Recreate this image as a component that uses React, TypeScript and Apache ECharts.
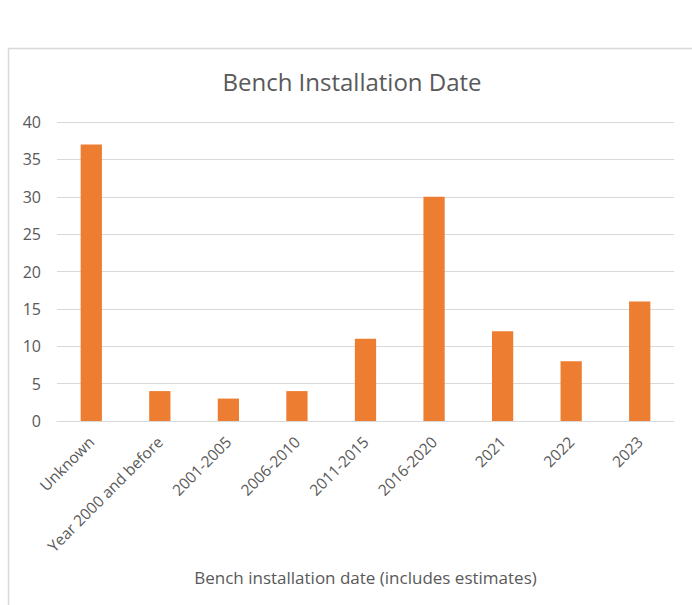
import React, { useEffect, useRef } from "react";
import * as echarts from "echarts";

const categories = [
  "Unknown",
  "Year 2000 and before",
  "2001-2005",
  "2006-2010",
  "2011-2015",
  "2016-2020",
  "2021",
  "2022",
  "2023",
];
const values = [37, 4, 3, 4, 11, 30, 12, 8, 16];
const titleText = "Bench Installation Date";
const xAxisName = "Bench installation date (includes estimates)";

export default function App() {
  const ref = useRef<HTMLDivElement>(null);
  useEffect(() => {
    if (!ref.current) return;
    const chart = echarts.init(ref.current, undefined, { renderer: "svg" });
    const font = "'Open Sans', sans-serif";
    chart.setOption({
      animation: false,
      backgroundColor: "#ffffff",
      textStyle: { fontFamily: font },
      title: {
        text: titleText,
        left: 347,
        textAlign: "center",
        top: 64,
        textStyle: { fontFamily: font, fontSize: 24, fontWeight: "normal", color: "#595959" },
      },
      graphic: [
        {
          type: "rect",
          shape: { x: 8.5, y: 48.5, width: 720, height: 600 },
          style: { fill: "none", stroke: "#D9D9D9", lineWidth: 1.5 },
          silent: true,
          z: -1,
        },
      ],
      grid: { left: 57, right: 18, top: 122, bottom: 184 },
      xAxis: {
        type: "category",
        data: categories,
        name: xAxisName,
        nameLocation: "middle",
        nameGap: 148,
        nameTextStyle: { fontFamily: font, fontSize: 17, color: "#595959" },
        axisLine: { show: true, lineStyle: { color: "#D9D9D9", width: 1 } },
        axisTick: { show: false },
        axisLabel: {
          interval: 0,
          rotate: 45,
          fontFamily: font,
          fontSize: 15.5,
          color: "#595959",
          margin: 18,
        },
      },
      yAxis: {
        type: "value",
        min: 0,
        max: 40,
        interval: 5,
        axisLine: { show: false },
        axisTick: { show: false },
        splitLine: { lineStyle: { color: "#D9D9D9", width: 1 } },
        axisLabel: { fontFamily: font, fontSize: 16, color: "#595959", margin: 16 },
      },
      series: [
        {
          type: "bar",
          data: values,
          barWidth: "31%",
          itemStyle: { color: "#ED7D31" },
        },
      ],
    });
    return () => chart.dispose();
  }, []);
  return (
    <div
      ref={ref}
      style={{ position: "fixed", left: 0, top: 0, width: 692, height: 605 }}
    />
  );
}
